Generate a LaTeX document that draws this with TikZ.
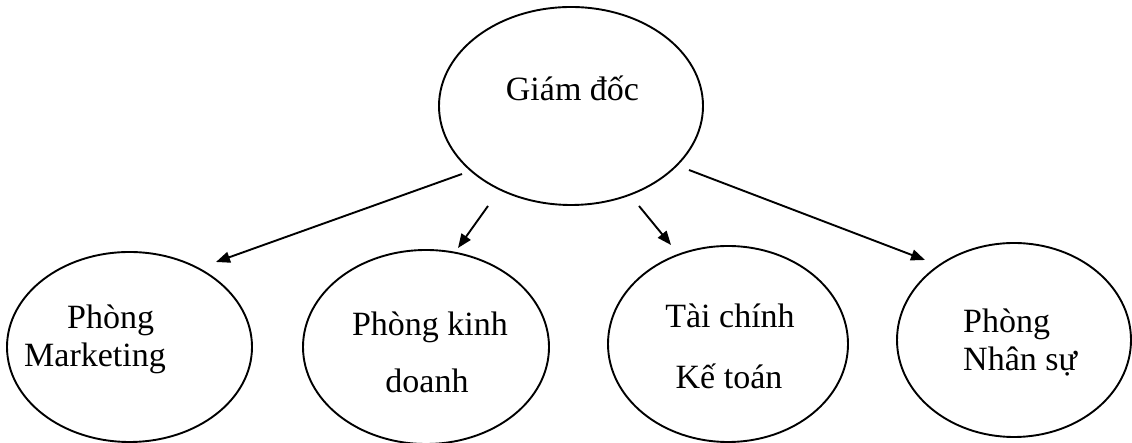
\documentclass[tikz,border=0pt]{standalone}
\usepackage{fontspec}
\setmainfont{Liberation Serif}
\usetikzlibrary{shapes.geometric,arrows.meta}
\tikzset{
  ell/.style={draw=black, line width=1.9pt, ellipse, inner sep=0pt, outer sep=0pt},
  txt/.style={inner sep=0pt, font=\fontsize{34}{40}\selectfont},
  arr/.style={line width=1.9pt, -{Triangle[length=14pt,width=11pt]}}
}
\begin{document}
\begin{tikzpicture}[x=1pt,y=1pt]
\useasboundingbox (0,0) rectangle (1132,443);
% ellipses
\node[ell, minimum width=264pt, minimum height=198pt] (gd) at (571,337) {};
\node[ell, minimum width=245pt, minimum height=190pt] (mk) at (129.5,96) {};
\node[ell, minimum width=246pt, minimum height=194pt] (kd) at (426,96) {};
\node[ell, minimum width=240pt, minimum height=196pt] (tc) at (728,99) {};
\node[ell, minimum width=234pt, minimum height=194pt] (ns) at (1014,103) {};
% texts
\node[txt, anchor=base] (gdt) at (572.5,342) {Giám đốc};
\node[txt, anchor=base west] (mk1) at (67,114) {Phòng};
\node[txt, anchor=base west] (mk2) at (24,76) {Marketing};
\node[txt, anchor=base] (kd1) at (430,107) {Phòng kinh};
\node[txt, anchor=base] (kd2) at (427,50) {doanh};
\node[txt, anchor=base] (tc1) at (730,115) {Tài chính};
\node[txt, anchor=base] (tc2) at (729,54) {Kế toán};
\node[txt, anchor=base west] (ns1) at (963,110) {Phòng};
\node[txt, anchor=base west] (ns2) at (963,72) {Nhân sự};
% arrow end points
\coordinate (a1s) at (462,269); \coordinate (a1e) at (216,181);
\coordinate (a2s) at (488,237); \coordinate (a2e) at (458,195);
\coordinate (a3s) at (639,237); \coordinate (a3e) at (671,198);
\coordinate (a4s) at (689,273); \coordinate (a4e) at (925,183);
\draw[arr] (a1s) -- (a1e);
\draw[arr] (a2s) -- (a2e);
\draw[arr] (a3s) -- (a3e);
\draw[arr] (a4s) -- (a4e);
\end{tikzpicture}
\end{document}
